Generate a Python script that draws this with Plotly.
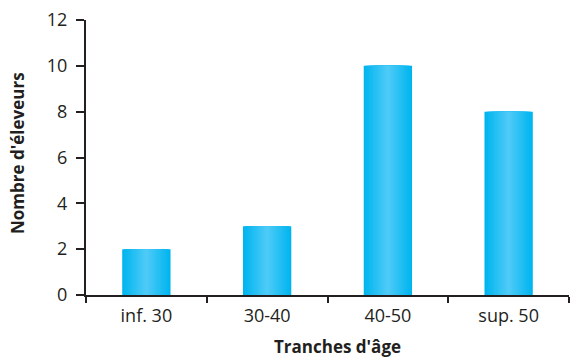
import plotly.graph_objects as go

# Age bands and number of breeders in each band
categories = ["inf. 30", "30-40", "40-50", "sup. 50"]
breeders = [2, 3, 10, 8]
y_ticks = [0, 2, 4, 6, 8, 10, 12]

x_title = "Tranches d'âge"
y_title = "Nombre d'éleveurs"

EDGE = (0, 181, 239)
CENTER = (77, 202, 247)
BAR_WIDTH = 0.4
LAYERS = 14
INK = "#231f20"
FONT = "Open Sans"


def blend(t):
    r, g, b = (round(e + (c - e) * t) for e, c in zip(EDGE, CENTER))
    return f"rgb({r},{g},{b})"


fig = go.Figure()

# Horizontal gradient: stack progressively narrower, lighter bars on top
for i in range(LAYERS):
    t = i / (LAYERS - 1)
    w = BAR_WIDTH * (1 - i / LAYERS)
    fig.add_trace(go.Bar(
        x=categories,
        y=breeders,
        width=w,
        marker=dict(color=blend(t), line=dict(width=0)),
        hoverinfo="skip" if i else "x+y",
        showlegend=False,
    ))

fig.update_layout(
    width=570,
    height=360,
    margin=dict(l=86, r=1, t=20, b=65),
    barmode="overlay",
    plot_bgcolor="white",
    paper_bgcolor="white",
    font=dict(family=FONT, size=18, color=INK),
    xaxis=dict(
        type="category",
        range=[-0.5, 3.5],
        showline=True,
        linecolor=INK,
        linewidth=2,
        ticks="outside",
        tickson="boundaries",
        ticklen=6,
        tickwidth=2,
        tickcolor=INK,
        showgrid=False,
        ticklabelstandoff=3,
    ),
    yaxis=dict(
        range=[0, 12],
        tickvals=y_ticks,
        showline=True,
        linecolor=INK,
        linewidth=2,
        ticks="outside",
        ticklen=8,
        tickwidth=2,
        tickcolor=INK,
        showgrid=False,
        zeroline=False,
        ticklabelstandoff=5,
    ),
    annotations=[
        dict(
            text=f"<b>{x_title}</b>",
            xref="paper", yref="paper",
            x=(337.5 - 86) / 483, y=-(347 - 295) / 275,
            xanchor="center", yanchor="middle",
            showarrow=False,
            font=dict(family=FONT, size=17, color=INK),
        ),
        dict(
            text=f"<b>{y_title}</b>",
            xref="paper", yref="paper",
            x=-(86 - 17) / 483, y=(295 - 153) / 275,
            xanchor="center", yanchor="middle",
            textangle=-90,
            showarrow=False,
            font=dict(family=FONT, size=17, color=INK),
        ),
    ],
)

fig.write_html("out.html")
